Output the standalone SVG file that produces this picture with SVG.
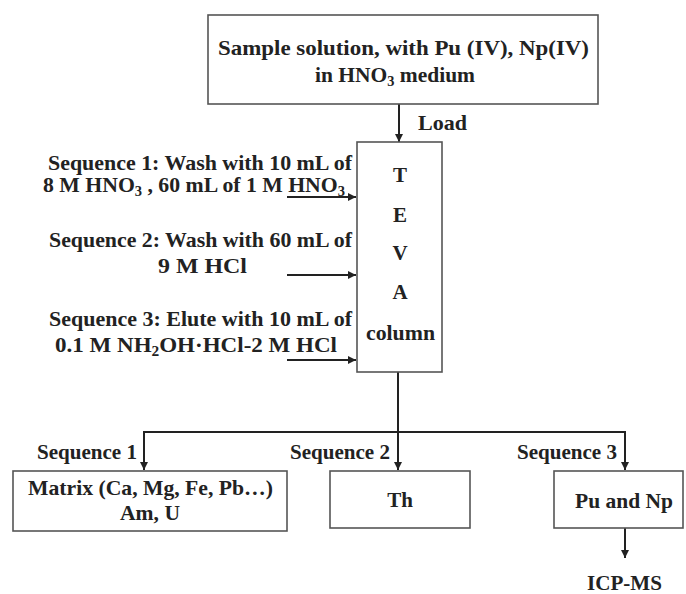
<svg xmlns="http://www.w3.org/2000/svg" width="686" height="594" viewBox="0 0 686 594">
<style>
.box{fill:#fff;stroke:#555;stroke-width:1.6}
.ln{fill:none;stroke:#222;stroke-width:2}
</style>
<defs>
<marker id="ah" viewBox="0 0 10 10" refX="10" refY="5" markerWidth="4" markerHeight="4" orient="auto" markerUnits="strokeWidth">
<path d="M0,0 L10,5 L0,10 z" fill="#222"/>
</marker>
</defs>
<rect width="686" height="594" fill="#fff"/>
<g id="connectors">
<line class="ln" x1="399" y1="104" x2="399" y2="142" marker-end="url(#ah)"/>
<line class="ln" x1="287" y1="197" x2="356" y2="197" marker-end="url(#ah)"/>
<line class="ln" x1="287" y1="275" x2="356" y2="275" marker-end="url(#ah)"/>
<line class="ln" x1="287" y1="360" x2="356" y2="360" marker-end="url(#ah)"/>
<line class="ln" x1="398" y1="372" x2="398" y2="432"/>
<line class="ln" x1="143" y1="432" x2="626" y2="432"/>
<line class="ln" x1="144" y1="432" x2="144" y2="470" marker-end="url(#ah)"/>
<line class="ln" x1="398" y1="432" x2="398" y2="470" marker-end="url(#ah)"/>
<line class="ln" x1="625" y1="432" x2="625" y2="470" marker-end="url(#ah)"/>
<line class="ln" x1="625" y1="528" x2="625" y2="558" marker-end="url(#ah)"/>
</g>
<g font-family="Liberation Serif, Times New Roman, serif" font-weight="bold" font-size="21" fill="#222">
<g id="sample">
<rect class="box" x="208" y="15" width="390" height="89"/>
<text x="218" y="55" textLength="371" lengthAdjust="spacingAndGlyphs">Sample solution, with Pu (IV), Np(IV)</text>
<text x="315" y="82" textLength="160" lengthAdjust="spacingAndGlyphs">in HNO<tspan font-size="14" dy="4">3</tspan><tspan dy="-4"> medium</tspan></text>
</g>
<g id="load-label">
<text x="418" y="130" textLength="49" lengthAdjust="spacingAndGlyphs">Load</text>
</g>
<g id="teva">
<rect class="box" x="357" y="142" width="85" height="230"/>
<text text-anchor="middle" x="400" y="182">T</text>
<text text-anchor="middle" x="400" y="222">E</text>
<text text-anchor="middle" x="400" y="260">V</text>
<text text-anchor="middle" x="400" y="299">A</text>
<text x="366" y="340" textLength="69" lengthAdjust="spacingAndGlyphs">column</text>
</g>
<g id="seq-labels">
<text x="48" y="170" textLength="304" lengthAdjust="spacingAndGlyphs">Sequence 1: Wash with 10 mL of</text>
<text x="43" y="192" textLength="302" lengthAdjust="spacingAndGlyphs">8 M HNO<tspan font-size="14" dy="4">3</tspan><tspan dy="-4"> , 60 mL of 1 M HNO</tspan><tspan font-size="14" dy="4">3</tspan></text>
<text x="49" y="247" textLength="303" lengthAdjust="spacingAndGlyphs">Sequence 2: Wash with 60 mL of</text>
<text x="158" y="273" textLength="89" lengthAdjust="spacingAndGlyphs">9 M  HCl</text>
<text x="49" y="326" textLength="303" lengthAdjust="spacingAndGlyphs">Sequence 3: Elute with 10 mL of</text>
<text x="55" y="352" textLength="282" lengthAdjust="spacingAndGlyphs">0.1 M NH<tspan font-size="14" dy="4">2</tspan><tspan dy="-4">OH·HCl-2 M  HCl</tspan></text>
</g>
<g id="branch-labels">
<text x="37" y="459" textLength="100" lengthAdjust="spacingAndGlyphs">Sequence 1</text>
<text x="290" y="459" textLength="100" lengthAdjust="spacingAndGlyphs">Sequence 2</text>
<text x="517" y="459" textLength="100" lengthAdjust="spacingAndGlyphs">Sequence 3</text>
</g>
<g id="matrix">
<rect class="box" x="13" y="471" width="274" height="60"/>
<text x="28" y="495" textLength="245" lengthAdjust="spacingAndGlyphs">Matrix (Ca, Mg, Fe, Pb…)</text>
<text x="120" y="520" textLength="60" lengthAdjust="spacingAndGlyphs">Am, U</text>
</g>
<g id="th">
<rect class="box" x="330" y="471" width="140" height="57"/>
<text text-anchor="middle" x="400" y="507">Th</text>
</g>
<g id="puNp">
<rect class="box" x="554" y="471" width="129" height="57"/>
<text x="575" y="508" textLength="98" lengthAdjust="spacingAndGlyphs">Pu and Np</text>
</g>
<g id="icpms">
<text x="587" y="590" textLength="75" lengthAdjust="spacingAndGlyphs">ICP-MS</text>
</g>
</g>
</svg>
